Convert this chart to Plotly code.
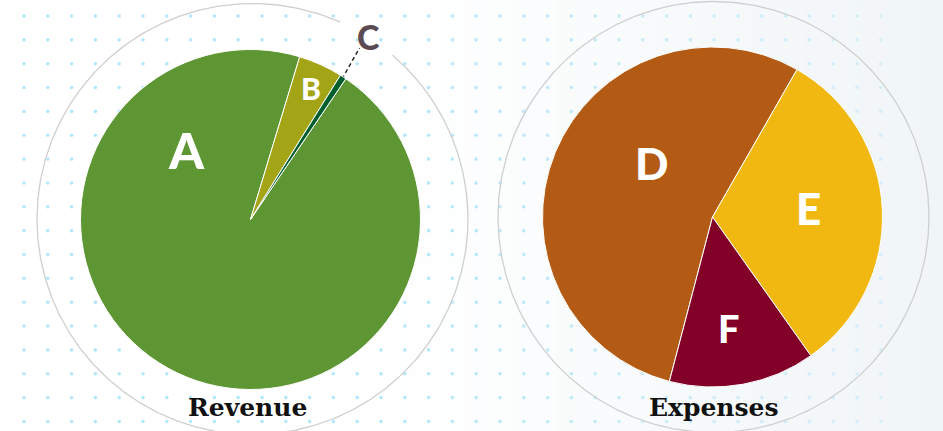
import numpy as np
import plotly.graph_objects as go

W, H = 943, 431

# ---- data ----
rev_labels = ["A", "B", "C"]
rev_values = [95.2, 4.2, 0.6]
rev_colors = ["#5E9634", "#A3A517", "#005E2C"]

exp_labels = ["D", "E", "F"]
exp_values = [54.2, 31.9, 13.9]
exp_colors = ["#B35B14", "#F1B812", "#820028"]

titles = ["Revenue", "Expenses"]

# ---- layout geometry (pixels) ----
L_C = (250.5, 219.5)
R_C = (712.5, 217.0)
PIE_R = 170
RING_R = 215.5


def dom(c):
    cx, cy = c
    return dict(x=[(cx - PIE_R) / W, (cx + PIE_R) / W],
                y=[1 - (cy + PIE_R) / H, 1 - (cy - PIE_R) / H])


fig = go.Figure()

# background gradient
gx = np.linspace(0, W, 60)
gz = np.clip((gx - 380) / (W - 380), 0, 1)
fig.add_trace(go.Heatmap(x=gx, y=[0, H], z=[gz, gz], zsmooth="best",
                         colorscale=[[0, "#ffffff"], [1, "#f0f5f7"]],
                         showscale=False, hoverinfo="skip"))

# dotted pattern
xs, ys, cols = [], [], []
for i in range(37):
    x = 24 + 23.8 * i
    for j in range(18):
        y = 16 + 23.85 * j
        a = 0.6 - 0.35 * max(0, (x - 400) / 480)
        xs.append(x); ys.append(y); cols.append(f"rgba(130,215,248,{a:.2f})")
fig.add_trace(go.Scatter(x=xs, y=ys, mode="markers",
                         marker=dict(size=3.6, color=cols, line=dict(width=0)),
                         hoverinfo="skip", showlegend=False))

# rings
def ring(c, r, gap=None):
    t = np.linspace(0, 360, 721)
    if gap:
        t = np.linspace(gap[1], gap[0] + 360, 700)
    tr = np.radians(t)
    return c[0] + r * np.sin(tr), c[1] - r * np.cos(tr)

for c, gap in [((252.5, 219.0), (24, 40.5)), ((713.5, 217.0), None)]:
    rx, ry = ring(c, RING_R, gap)
    fig.add_trace(go.Scatter(x=rx, y=ry, mode="lines",
                             line=dict(color="#cfcfcf", width=1.3),
                             hoverinfo="skip", showlegend=False))

# leader line for C
fig.add_trace(go.Scatter(x=[342, 359.5], y=[79, 48], mode="lines",
                         line=dict(color="#2a2a2a", width=1.5, dash="4px,3px"),
                         hoverinfo="skip", showlegend=False))

# pies
fig.add_trace(go.Pie(labels=rev_labels, values=rev_values, sort=False,
                     direction="clockwise", rotation=34.1,
                     marker=dict(colors=rev_colors, line=dict(color="white", width=1)),
                     textinfo="none", hoverinfo="label+value",
                     domain=dom(L_C), showlegend=False))
fig.add_trace(go.Pie(labels=exp_labels, values=exp_values, sort=False,
                     direction="clockwise", rotation=-165.3,
                     marker=dict(colors=exp_colors, line=dict(color="white", width=1)),
                     textinfo="none", hoverinfo="label+value",
                     domain=dom(R_C), showlegend=False))

# slice labels
lab_pos = {"A": (186.5, 147, 50), "B": (311.3, 86, 30), "C": (368, 34, 34, "#5B4A51"),
           "D": (651, 160, 44), "E": (808, 205, 44), "F": (729, 326, 38)}
ann = []
for k, v in lab_pos.items():
    color = v[3] if len(v) > 3 else "white"
    ann.append(dict(x=v[0], y=v[1] + v[2] * 0.06, xref="x", yref="y", text=k, showarrow=False,
                    xanchor="center", yanchor="middle",
                    font=dict(family="Lato", size=v[2], color=color, weight=900)))

for t, cx in zip(titles, [247.5, 714]):
    ann.append(dict(x=cx, y=407, xref="x", yref="y", text=t, showarrow=False,
                    xanchor="center", yanchor="middle",
                    font=dict(family="DejaVu Serif", size=25, color="#111111", weight="bold")))

fig.update_layout(width=W, height=H, margin=dict(l=0, r=0, t=0, b=0),
                  paper_bgcolor="white", plot_bgcolor="white",
                  xaxis=dict(range=[0, W], visible=False, fixedrange=True),
                  yaxis=dict(range=[H, 0], visible=False, fixedrange=True),
                  annotations=ann, showlegend=False)

fig.write_html("out.html", config={"displayModeBar": False},
               post_script="document.body.style.margin='0';document.body.style.overflow='hidden';")
